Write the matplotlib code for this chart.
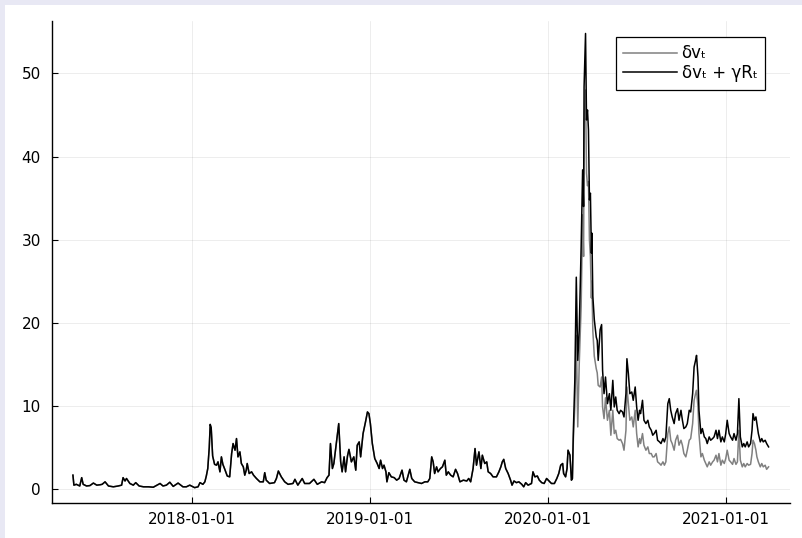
import matplotlib
matplotlib.use("Agg")
import matplotlib.pyplot as plt
import matplotlib.dates as mdates
import pandas as pd
from matplotlib.patches import Rectangle

# shared stretch (both series coincide before the March 2020 shock)
base_dates = [
    "2017-05-01", "2017-05-03", "2017-05-08", "2017-05-15", "2017-05-19", "2017-05-22", "2017-05-29",
    "2017-06-05", "2017-06-12", "2017-06-19", "2017-06-26", "2017-06-30", "2017-07-06", "2017-07-13",
    "2017-07-23", "2017-08-02", "2017-08-09", "2017-08-12", "2017-08-16", "2017-08-19", "2017-08-26",
    "2017-09-02", "2017-09-07", "2017-09-14", "2017-09-23", "2017-10-03", "2017-10-13", "2017-10-27",
    "2017-11-02", "2017-11-09", "2017-11-16", "2017-11-23", "2017-12-03", "2017-12-13", "2017-12-20",
    "2017-12-27", "2018-01-06", "2018-01-13", "2018-01-17", "2018-01-23", "2018-01-27", "2018-01-30",
    "2018-02-02", "2018-02-05", "2018-02-07", "2018-02-09", "2018-02-12", "2018-02-16", "2018-02-20",
    "2018-02-23", "2018-02-27", "2018-03-02", "2018-03-05", "2018-03-09", "2018-03-14", "2018-03-19",
    "2018-03-23", "2018-03-26", "2018-03-30", "2018-04-02", "2018-04-05", "2018-04-09", "2018-04-12",
    "2018-04-16", "2018-04-19", "2018-04-22", "2018-04-24", "2018-04-28", "2018-05-03", "2018-05-07",
    "2018-05-13", "2018-05-20", "2018-05-27", "2018-05-30", "2018-06-02", "2018-06-09", "2018-06-19",
    "2018-06-23", "2018-06-27", "2018-07-03", "2018-07-10", "2018-07-17", "2018-07-27", "2018-07-31",
    "2018-08-06", "2018-08-15", "2018-08-20", "2018-08-30", "2018-09-08", "2018-09-15", "2018-09-24",
    "2018-09-30", "2018-10-05", "2018-10-09", "2018-10-12", "2018-10-16", "2018-10-19", "2018-10-24",
    "2018-10-29", "2018-11-02", "2018-11-05", "2018-11-09", "2018-11-12", "2018-11-16", "2018-11-19",
    "2018-11-24", "2018-11-29", "2018-12-03", "2018-12-06", "2018-12-10", "2018-12-13", "2018-12-18",
    "2018-12-23", "2018-12-27", "2018-12-30", "2019-01-02", "2019-01-06", "2019-01-11", "2019-01-16",
    "2019-01-20", "2019-01-23", "2019-01-27", "2019-01-30", "2019-02-03", "2019-02-05", "2019-02-09",
    "2019-02-14", "2019-02-20", "2019-02-25", "2019-03-02", "2019-03-08", "2019-03-12", "2019-03-17",
    "2019-03-24", "2019-03-28", "2019-04-03", "2019-04-10", "2019-04-17", "2019-04-24", "2019-04-30",
    "2019-05-04", "2019-05-08", "2019-05-11", "2019-05-14", "2019-05-18", "2019-05-21", "2019-05-26",
    "2019-05-30", "2019-06-04", "2019-06-07", "2019-06-11", "2019-06-16", "2019-06-21", "2019-06-26",
    "2019-06-30", "2019-07-05", "2019-07-12", "2019-07-19", "2019-07-23", "2019-07-27", "2019-08-01",
    "2019-08-05", "2019-08-08", "2019-08-13", "2019-08-17", "2019-08-20", "2019-08-25", "2019-08-29",
    "2019-09-01", "2019-09-06", "2019-09-11", "2019-09-18", "2019-09-23", "2019-09-27", "2019-09-30",
    "2019-10-03", "2019-10-07", "2019-10-12", "2019-10-17", "2019-10-20", "2019-10-24", "2019-10-29",
    "2019-11-03", "2019-11-09", "2019-11-13", "2019-11-17", "2019-11-22", "2019-11-29", "2019-12-02",
    "2019-12-06", "2019-12-11", "2019-12-15", "2019-12-20", "2019-12-25", "2019-12-30", "2020-01-04",
    "2020-01-09", "2020-01-15", "2020-01-20", "2020-01-24", "2020-01-28", "2020-02-01", "2020-02-03",
    "2020-02-07", "2020-02-10", "2020-02-12", "2020-02-16", "2020-02-19", "2020-02-21",
]
base_vals = [
    1.7, 0.5, 0.6, 0.4, 1.4, 0.6, 0.4,
    0.45, 0.75, 0.5, 0.55, 0.6, 0.9, 0.4,
    0.3, 0.4, 0.5, 1.4, 1.0, 1.3, 0.7,
    0.5, 0.8, 0.4, 0.3, 0.3, 0.25, 0.7,
    0.4, 0.5, 0.85, 0.35, 0.75, 0.3, 0.3,
    0.5, 0.2, 0.3, 0.8, 0.6, 0.9, 1.6,
    2.5, 5.0, 7.8, 7.4, 4.0, 3.0, 2.9,
    3.3, 2.1, 3.9, 3.0, 2.4, 1.6, 1.5,
    4.3, 5.5, 4.7, 6.1, 3.9, 4.5, 3.1,
    2.7, 1.7, 2.3, 3.1, 1.9, 2.1, 1.7,
    1.3, 0.9, 0.9, 2.0, 1.1, 0.7, 0.8,
    1.3, 2.2, 1.5, 0.9, 0.6, 0.7, 1.2,
    0.5, 1.3, 0.7, 0.7, 1.2, 0.6, 0.9,
    0.8, 1.4, 1.7, 5.5, 2.5, 3.1, 5.5,
    7.9, 3.3, 2.1, 3.9, 2.1, 4.0, 4.8,
    3.3, 3.9, 2.3, 5.3, 5.7, 3.9, 6.7,
    8.1, 9.3, 9.1, 7.9, 5.5, 3.7, 3.1,
    2.5, 3.5, 2.5, 2.9, 2.1, 0.9, 2.0,
    1.5, 1.4, 1.1, 1.3, 2.3, 1.1, 0.9,
    2.4, 1.3, 0.9, 0.8, 0.7, 0.9, 0.9,
    1.3, 3.9, 3.3, 1.9, 2.7, 2.1, 2.5,
    2.7, 3.5, 1.7, 2.1, 1.7, 1.5, 2.4,
    1.9, 0.9, 1.1, 1.0, 1.3, 0.9, 2.5,
    4.9, 2.9, 4.5, 2.5, 4.1, 3.1, 3.3,
    2.1, 1.9, 1.5, 1.5, 2.1, 2.7, 3.3,
    3.6, 2.5, 1.9, 1.1, 0.5, 1.0, 0.8,
    0.9, 0.6, 0.3, 0.8, 0.5, 0.7, 2.1,
    1.5, 1.6, 1.1, 0.8, 0.7, 1.3, 1.0,
    0.7, 0.7, 1.3, 1.9, 2.9, 3.1, 1.9,
    1.5, 2.5, 4.7, 4.1, 1.1, 1.3,
]

# from the shock onwards the two series separate
crisis_dates = [
    "2020-02-23", "2020-02-26", "2020-02-29", "2020-03-03", "2020-03-06", "2020-03-10", "2020-03-13",
    "2020-03-15", "2020-03-16", "2020-03-19", "2020-03-21", "2020-03-23", "2020-03-25", "2020-03-27",
    "2020-03-29", "2020-03-31", "2020-04-01", "2020-04-03", "2020-04-06", "2020-04-10", "2020-04-12",
    "2020-04-14", "2020-04-18", "2020-04-21", "2020-04-23", "2020-04-26", "2020-04-29", "2020-05-03",
    "2020-05-07", "2020-05-10", "2020-05-14", "2020-05-17", "2020-05-20", "2020-05-23", "2020-05-27",
    "2020-05-30", "2020-06-03", "2020-06-06", "2020-06-10", "2020-06-12", "2020-06-15", "2020-06-18",
    "2020-06-22", "2020-06-25", "2020-06-29", "2020-07-02", "2020-07-05", "2020-07-08", "2020-07-10",
    "2020-07-14", "2020-07-17", "2020-07-21", "2020-07-25", "2020-07-28", "2020-08-01", "2020-08-04",
    "2020-08-07", "2020-08-11", "2020-08-14", "2020-08-18", "2020-08-21", "2020-08-25", "2020-08-28",
    "2020-08-31", "2020-09-04", "2020-09-07", "2020-09-10", "2020-09-13", "2020-09-17", "2020-09-20",
    "2020-09-24", "2020-09-27", "2020-10-01", "2020-10-04", "2020-10-07", "2020-10-11", "2020-10-14",
    "2020-10-18", "2020-10-21", "2020-10-25", "2020-10-28", "2020-10-31", "2020-11-02", "2020-11-05",
    "2020-11-07", "2020-11-11", "2020-11-14", "2020-11-18", "2020-11-21", "2020-11-24", "2020-11-28",
    "2020-12-01", "2020-12-05", "2020-12-08", "2020-12-12", "2020-12-15", "2020-12-18", "2020-12-22",
    "2020-12-25", "2020-12-29", "2021-01-01", "2021-01-04", "2021-01-08", "2021-01-11", "2021-01-15",
    "2021-01-18", "2021-01-22", "2021-01-25", "2021-01-28", "2021-01-31", "2021-02-04", "2021-02-07",
    "2021-02-10", "2021-02-14", "2021-02-17", "2021-02-21", "2021-02-24", "2021-02-26", "2021-03-01",
    "2021-03-04", "2021-03-06", "2021-03-09", "2021-03-13", "2021-03-16", "2021-03-19", "2021-03-23",
    "2021-03-26", "2021-03-30",
]
# dv_t + gamma R_t
crisis_dv_gr = [
    7.1, 13.1, 25.5, 15.5, 19.1, 29.2, 38.4,
    34.0, 48.4, 54.8, 44.4, 45.6, 43.2, 34.8,
    35.6, 28.4, 30.8, 23.2, 20.4, 18.3, 17.9,
    15.5, 19.2, 19.8, 14.3, 11.5, 13.5, 10.3,
    11.5, 9.5, 13.1, 9.9, 11.1, 9.5, 9.1,
    9.5, 9.3, 8.7, 11.5, 15.7, 13.9, 11.5,
    11.7, 10.7, 12.3, 9.9, 8.3, 9.5, 9.1,
    10.7, 8.3, 7.9, 8.3, 7.5, 7.1, 6.5,
    6.7, 7.1, 5.9, 5.7, 5.5, 6.1, 5.7,
    6.3, 10.3, 10.9, 9.5, 8.7, 7.9, 9.1,
    9.7, 8.3, 9.5, 8.3, 7.3, 7.5, 7.9,
    9.5, 9.3, 11.5, 14.7, 15.5, 16.1, 13.5,
    9.5, 6.7, 7.3, 6.3, 6.1, 5.5, 6.3,
    5.9, 6.1, 6.3, 7.1, 6.1, 7.1, 5.7,
    6.3, 5.7, 6.7, 8.3, 6.7, 6.3, 5.9,
    6.7, 5.9, 6.7, 10.9, 6.3, 5.1, 5.5,
    5.1, 5.7, 5.1, 5.5, 7.1, 9.1, 8.3,
    8.7, 7.9, 6.7, 5.7, 6.1, 5.7, 5.9,
    5.5, 5.1,
]
# dv_t alone
crisis_dv = [
    6.0, 10.0, 18.5, 7.5, 15.0, 22.0, 33.0,
    28.0, 44.0, 48.0, 38.0, 36.5, 37.0, 30.0,
    28.0, 23.0, 25.0, 19.0, 16.0, 14.5, 14.0,
    12.5, 12.3, 13.5, 9.9, 8.5, 11.0, 8.3,
    9.5, 6.5, 9.5, 6.7, 7.1, 6.1, 5.9,
    6.0, 5.5, 4.7, 7.1, 12.3, 10.3, 8.3,
    8.7, 7.5, 9.5, 6.7, 5.1, 6.1, 5.5,
    6.7, 5.3, 4.7, 5.1, 4.3, 4.3, 3.9,
    3.9, 4.3, 3.3, 3.1, 2.9, 3.3, 2.9,
    3.3, 6.7, 7.5, 5.9, 5.5, 4.7, 5.9,
    6.5, 5.3, 5.9, 5.3, 4.3, 3.9, 4.7,
    5.9, 6.1, 7.9, 10.7, 11.5, 11.9, 9.9,
    6.7, 3.9, 4.3, 3.5, 3.1, 2.7, 3.3,
    2.9, 3.3, 3.5, 4.1, 3.3, 4.3, 2.9,
    3.5, 3.1, 3.7, 4.7, 3.5, 3.3, 3.0,
    3.7, 3.0, 3.3, 7.1, 3.5, 2.7, 3.1,
    2.7, 3.1, 2.9, 3.0, 4.3, 5.9, 5.5,
    4.7, 3.9, 3.3, 2.7, 3.1, 2.7, 2.9,
    2.4, 2.7,
]

year_ticks = ["2018-01-01", "2019-01-01", "2020-01-01", "2021-01-01"]
y_ticks = [0, 10, 20, 30, 40, 50]

dates = pd.to_datetime(base_dates + crisis_dates)
dv = base_vals + crisis_dv
dv_gr = base_vals + crisis_dv_gr

W, H = 803, 538
fig = plt.figure(figsize=(W / 100, H / 100), dpi=100, facecolor="#e8e8f4")
# white canvas inset by a few pixels at the top and left
fig.patches.append(Rectangle((5 / W, 0), 1 - 5 / W, (H - 5) / H, transform=fig.transFigure,
                             facecolor="white", edgecolor="none", zorder=-10))
ax = fig.add_axes([52 / W, 1 - 502.7 / H, (790 - 52) / W, (502.7 - 21) / H])
ax.set_facecolor("white")

ax.plot(dates, dv, color="#808080", lw=1.1, label="δvₜ")
ax.plot(dates, dv_gr, color="black", lw=1.1, label="δvₜ + γRₜ")

ax.set_xlim(pd.Timestamp("2017-03-19"), pd.Timestamp("2021-05-13"))
ax.set_ylim(-1.61, 56.3)
ax.set_xticks(pd.to_datetime(year_ticks))
ax.xaxis.set_major_formatter(mdates.DateFormatter("%Y-%m-%d"))
ax.set_yticks(y_ticks)

ax.grid(True, color="black", alpha=0.1, lw=0.5)
for s in ("top", "right"):
    ax.spines[s].set_visible(False)
for s in ("left", "bottom"):
    ax.spines[s].set_linewidth(1.0)
    ax.spines[s].set_color("black")
ax.tick_params(direction="in", length=4.5, width=0.8, labelsize=11, pad=7)
ax.tick_params(axis="y", pad=8)

leg = ax.legend(loc="upper right", bbox_to_anchor=(0.966, 0.967), borderaxespad=0,
                fontsize=12, frameon=True, fancybox=False, framealpha=1,
                edgecolor="black", handlelength=3.2, handletextpad=0.3,
                labelspacing=0.1, borderpad=0.45)
leg.get_frame().set_linewidth(0.9)

fig.savefig("out.png", dpi=100, facecolor=fig.get_facecolor())
